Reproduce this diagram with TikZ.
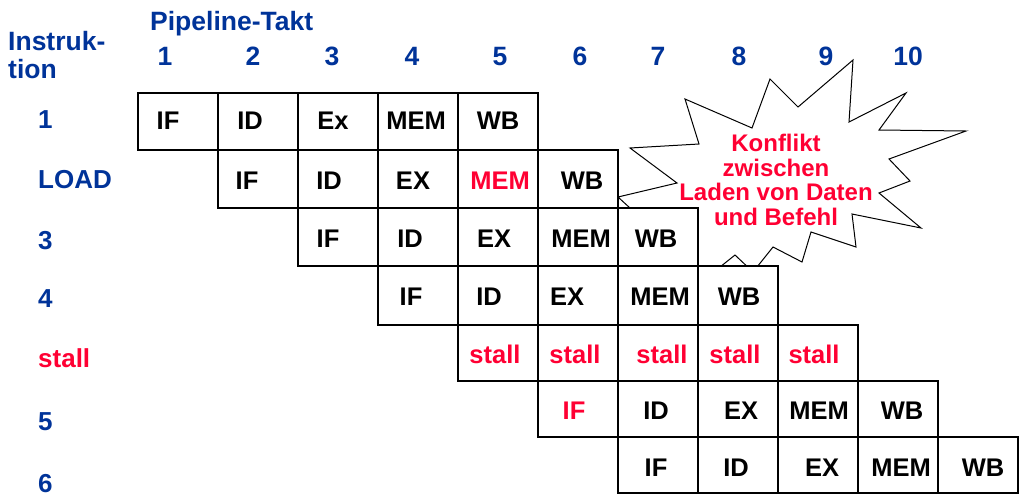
\documentclass[tikz,border=0pt]{standalone}
\usepackage{fontspec}
\setmainfont{Liberation Sans}
\definecolor{hdrblue}{RGB}{0,51,153}
\definecolor{conred}{RGB}{255,0,51}
\tikzset{
  cellbox/.style={draw=black, line width=1.1pt, fill=white, minimum width=80pt, inner sep=0pt},
  celltext/.style={inner sep=0pt, text height=18pt, text depth=0pt,
    font=\fontsize{25.5}{28}\selectfont\bfseries},
  hdr/.style={text=hdrblue, font=\fontsize{26.5}{28}\selectfont\bfseries, inner sep=0pt},
  rowlab/.style={text=hdrblue, font=\fontsize{26}{28}\selectfont\bfseries, inner sep=0pt, anchor=base west},
  burst/.style={draw=black, line width=1pt, fill=white, line join=miter},
  bursttext/.style={text=conred, align=center, inner sep=0pt,
    font=\fontsize{24}{24.5}\selectfont\bfseries}
}
\begin{document}
\begin{tikzpicture}[x=1pt,y=-1pt]
\useasboundingbox (0,0) rectangle (1024,496);

% header
\node[hdr, anchor=base west] (takt) at (150,30.5) {Pipeline-Takt};
\node[hdr, anchor=base west] (instr1) at (8,50) {Instruk-};
\node[hdr, anchor=base west] (instr2) at (8,78) {tion};
\foreach \n/\xx in {1/165,2/253,3/332,4/412,5/500,6/580,7/658,8/739,9/826,10/908}
  \node[hdr, anchor=base] (t\n) at (\xx,65) {\n};

% row labels
\node[rowlab] (l1) at (38,128) {1};
\node[rowlab] (l2) at (38,188) {LOAD};
\node[rowlab] (l3) at (38,249) {3};
\node[rowlab] (l4) at (38,307) {4};
\node[rowlab, text=conred] (l5) at (38,367) {stall};
\node[rowlab] (l6) at (38,430) {5};
\node[rowlab] (l7) at (38,492) {6};

% conflict starburst (behind the cells)
\draw[burst] (630,148) -- (699,144) -- (685,99) -- (752,128) -- (770,79)
  -- (798,107) -- (853,60) -- (849,122) -- (906,93) -- (879,130)
  -- (966,131) -- (889,159) -- (910,181) -- (879,193) -- (921,228)
  -- (852,214) -- (856,247) -- (811,232) -- (802,262) -- (773,247)
  -- (753,272) -- (735,255) -- (710,275) -- (668,243) -- (618,197)
  -- (677,183) -- cycle;
\node[bursttext] (konflikt) at (776,180) {Konflikt\\zwischen\\Laden von Daten\\und Befehl};

% pipeline cells: boxes
\foreach \i in {0,...,4} {
  \node[cellbox, minimum height=57pt] (r1c\i) at ({178+80*\i},121.5) {};
  \node[cellbox, minimum height=58pt] (r2c\i) at ({258+80*\i},179) {};
  \node[cellbox, minimum height=58pt] (r3c\i) at ({338+80*\i},237) {};
  \node[cellbox, minimum height=59pt] (r4c\i) at ({418+80*\i},295.5) {};
  \node[cellbox, minimum height=56pt] (r5c\i) at ({498+80*\i},353) {};
  \node[cellbox, minimum height=56pt] (r6c\i) at ({578+80*\i},409) {};
  \node[cellbox, minimum height=56pt] (r7c\i) at ({658+80*\i},465) {};
}
% pipeline cells: texts
\foreach \lab/\xx [count=\i from 0] in {IF/168,ID/250,Ex/333,MEM/416,WB/498}
  \node[celltext] (r1t\i) at (\xx,120.5) {\lab};
\foreach \lab/\xx [count=\i from 0] in {IF/247,ID/329,EX/413,{\textcolor{conred}{MEM}}/500,WB/582}
  \node[celltext] (r2t\i) at (\xx,180) {\lab};
\foreach \lab/\xx [count=\i from 0] in {IF/328,ID/410,EX/494,MEM/581,WB/656}
  \node[celltext] (r3t\i) at (\xx,238) {\lab};
\foreach \lab/\xx [count=\i from 0] in {IF/411,ID/489,EX/567,MEM/660,WB/739}
  \node[celltext] (r4t\i) at (\xx,296) {\lab};
\foreach \xx [count=\i from 0] in {495,575,662,735,814}
  \node[celltext, text=conred] (r5t\i) at (\xx,354) {stall};
\foreach \lab/\xx [count=\i from 0] in {{\textcolor{conred}{IF}}/574,ID/656,EX/741,MEM/819,WB/902}
  \node[celltext] (r6t\i) at (\xx,410) {\lab};
\foreach \lab/\xx [count=\i from 0] in {IF/656,ID/736,EX/822,MEM/901,WB/983}
  \node[celltext] (r7t\i) at (\xx,467) {\lab};
\end{tikzpicture}
\end{document}
